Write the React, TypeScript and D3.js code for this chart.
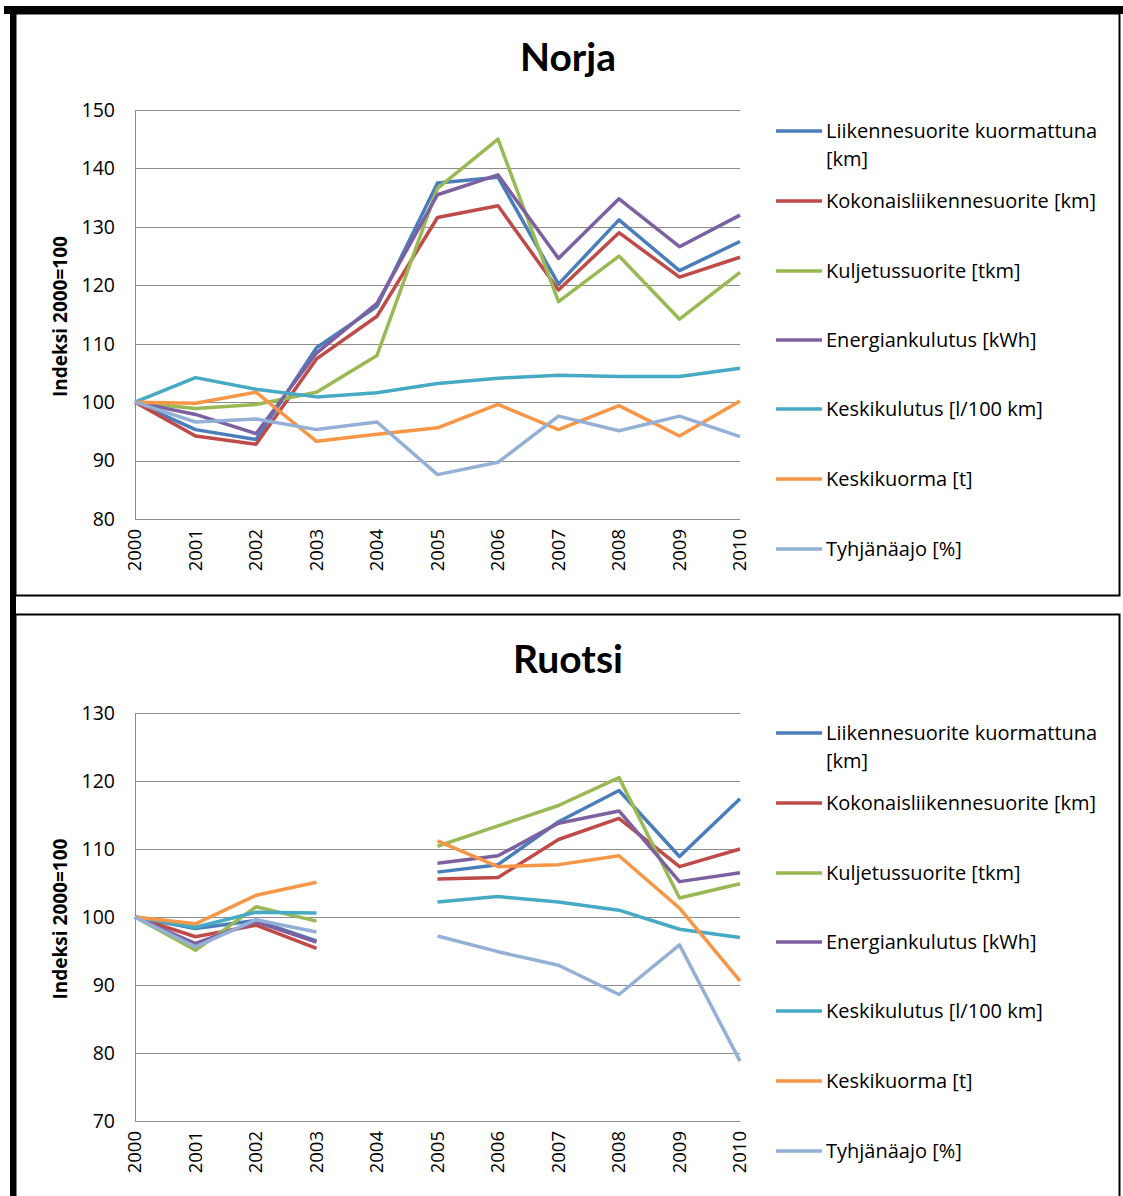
import React, { useRef, useEffect } from 'react';
import * as d3 from 'd3';

// vuodet
const years = [2000, 2001, 2002, 2003, 2004, 2005, 2006, 2007, 2008, 2009, 2010];

const seriesNames = [
  'Liikennesuorite kuormattuna [km]',
  'Kokonaisliikennesuorite [km]',
  'Kuljetussuorite [tkm]',
  'Energiankulutus [kWh]',
  'Keskikulutus [l/100 km]',
  'Keskikuorma [t]',
  'Tyhjänäajo [%]',
];

const colors = ['#4A7EBB', '#BE4B48', '#98B954', '#7D60A0', '#46AAC5', '#F79646', '#94B0D6'];

// Norja
const norjaKuormattuna = [100, 95.3, 93.6, 109.3, 116.4, 137.5, 138.5, 120.2, 131.2, 122.5, 127.5];
const norjaKokonais = [100, 94.2, 92.8, 107.4, 114.7, 131.6, 133.6, 119.2, 129.0, 121.4, 124.8];
const norjaKuljetus = [100, 98.9, 99.6, 101.7, 108.0, 136.6, 145.0, 117.2, 125.0, 114.2, 122.2];
const norjaEnergia = [100, 97.9, 94.6, 108.4, 116.9, 135.5, 138.9, 124.6, 134.8, 126.6, 132.0];
const norjaKeskikulutus = [100, 104.2, 102.2, 100.9, 101.6, 103.2, 104.1, 104.6, 104.4, 104.4, 105.8];
const norjaKeskikuorma = [100, 99.8, 101.7, 93.3, 94.5, 95.6, 99.6, 95.3, 99.4, 94.2, 100.2];
const norjaTyhja = [100, 96.6, 97.1, 95.3, 96.6, 87.6, 89.7, 97.6, 95.1, 97.6, 94.1];

// Ruotsi (2004 puuttuu)
const ruotsiKuormattuna = [100, 98.3, 99.5, 96.5, null, 106.6, 107.7, 114.0, 118.6, 108.9, 117.4];
const ruotsiKokonais = [100, 97.1, 98.8, 95.4, null, 105.6, 105.8, 111.4, 114.5, 107.4, 110.0];
const ruotsiKuljetus = [100, 95.1, 101.5, 99.4, null, 110.4, 113.4, 116.4, 120.5, 102.8, 104.9];
const ruotsiEnergia = [100, 96.1, 99.3, 96.3, null, 107.9, 109.0, 113.8, 115.6, 105.2, 106.5];
const ruotsiKeskikulutus = [100, 98.5, 100.7, 100.6, null, 102.2, 103.0, 102.2, 101.0, 98.2, 97.0];
const ruotsiKeskikuorma = [100, 99.0, 103.2, 105.1, null, 111.2, 107.4, 107.7, 109.0, 101.3, 90.6];
const ruotsiTyhja = [100, 95.6, 99.6, 97.8, null, 97.2, 94.9, 92.9, 88.6, 95.9, 78.8];

const norjaTicks = [80, 90, 100, 110, 120, 130, 140, 150];
const ruotsiTicks = [70, 80, 90, 100, 110, 120, 130];

const font = '"Open Sans", Lato, sans-serif';
const titleFont = 'Lato, "Open Sans", sans-serif';

function drawChart(svg, opts) {
  const { top, title, series, ticks, plotTop, plotBottom, legendY } = opts;
  const g = svg.append('g');
  const x0 = 135;
  const x1 = 740;

  const x = d3.scaleLinear().domain([2000, 2010]).range([x0, x1]);
  const y = d3.scaleLinear().domain([ticks[0], ticks[ticks.length - 1]]).range([plotBottom, plotTop]);

  // otsikko
  g.append('text')
    .attr('x', 568)
    .attr('y', top + 71)
    .attr('text-anchor', 'middle')
    .attr('font-family', titleFont)
    .attr('font-weight', 'bold')
    .attr('font-size', 39)
    .text(title);

  // y-akselin otsikko
  g.append('text')
    .attr('transform', `translate(67,${(plotTop + plotBottom) / 2 + 2}) rotate(-90)`)
    .attr('text-anchor', 'middle')
    .attr('font-family', font)
    .attr('font-weight', 'bold')
    .attr('font-size', 19)
    .text('Indeksi 2000=100');

  // ruudukko
  g.selectAll('.grid')
    .data(ticks)
    .enter()
    .append('line')
    .attr('x1', x0)
    .attr('x2', x1)
    .attr('y1', d => Math.round(y(d)) + 0.5)
    .attr('y2', d => Math.round(y(d)) + 0.5)
    .attr('stroke', '#8c8c8c')
    .attr('stroke-width', 1);

  g.append('line')
    .attr('x1', x0 + 0.5)
    .attr('x2', x0 + 0.5)
    .attr('y1', plotTop)
    .attr('y2', plotBottom)
    .attr('stroke', '#8c8c8c');

  g.selectAll('.ytick')
    .data(ticks)
    .enter()
    .append('text')
    .attr('x', 115)
    .attr('y', d => y(d))
    .attr('dy', '0.35em')
    .attr('text-anchor', 'end')
    .attr('font-family', font)
    .attr('font-size', 19.5)
    .text(d => d);

  g.selectAll('.xtick')
    .data(years)
    .enter()
    .append('text')
    .attr('transform', d => `translate(${x(d)},${plotBottom + 10}) rotate(-90)`)
    .attr('dy', '0.35em')
    .attr('text-anchor', 'end')
    .attr('font-family', font)
    .attr('font-size', 18.5)
    .text(d => d);

  const line = d3
    .line()
    .defined(d => d[1] != null)
    .x(d => x(d[0]))
    .y(d => y(d[1]));

  series.forEach((vals, i) => {
    g.append('path')
      .datum(years.map((yr, j) => [yr, vals[j]]))
      .attr('d', line)
      .attr('fill', 'none')
      .attr('stroke', colors[i])
      .attr('stroke-width', 3.5)
      .attr('stroke-linejoin', 'round');
  });

  // selite
  const legendYs = [0, 70, 140, 209, 278, 348, 418].map(d => legendY + d);
  seriesNames.forEach((name, i) => {
    const ly = legendYs[i];
    g.append('line')
      .attr('x1', 776)
      .attr('x2', 822)
      .attr('y1', ly)
      .attr('y2', ly)
      .attr('stroke', colors[i])
      .attr('stroke-width', 3.5);
    const t = g
      .append('text')
      .attr('x', 826)
      .attr('y', ly)
      .attr('dy', '0.35em')
      .attr('font-family', font)
      .attr('font-size', 20);
    if (i === 0) {
      t.append('tspan').attr('x', 826).text('Liikennesuorite kuormattuna');
      t.append('tspan').attr('x', 826).attr('dy', 28).text('[km]');
    } else {
      t.text(name);
    }
  });
}

const App = () => {
  const ref = useRef();

  useEffect(() => {
    const svg = d3.select(ref.current);
    svg.selectAll('*').remove();

    svg.append('rect').attr('width', 1123).attr('height', 1196).attr('fill', '#fff');

    // kehykset
    svg.append('rect').attr('x', 4).attr('y', 6).attr('width', 1119).attr('height', 8).attr('fill', '#000');
    svg.append('rect').attr('x', 10).attr('y', 6).attr('width', 6).attr('height', 1190).attr('fill', '#000');
    svg.append('rect')
      .attr('x', 15.5).attr('y', 13.5).attr('width', 1104).attr('height', 582)
      .attr('fill', 'none').attr('stroke', '#000').attr('stroke-width', 2);
    svg.append('rect')
      .attr('x', 15.5).attr('y', 614.5).attr('width', 1104).attr('height', 600)
      .attr('fill', 'none').attr('stroke', '#000').attr('stroke-width', 2);

    drawChart(svg, {
      top: 0,
      title: 'Norja',
      series: [norjaKuormattuna, norjaKokonais, norjaKuljetus, norjaEnergia, norjaKeskikulutus, norjaKeskikuorma, norjaTyhja],
      ticks: norjaTicks,
      plotTop: 110,
      plotBottom: 519,
      legendY: 131,
    });

    drawChart(svg, {
      top: 602,
      title: 'Ruotsi',
      series: [ruotsiKuormattuna, ruotsiKokonais, ruotsiKuljetus, ruotsiEnergia, ruotsiKeskikulutus, ruotsiKeskikuorma, ruotsiTyhja],
      ticks: ruotsiTicks,
      plotTop: 713,
      plotBottom: 1121,
      legendY: 733,
    });
  }, []);

  return (
    <svg
      ref={ref}
      width={1123}
      height={1196}
      style={{ position: 'absolute', left: 0, top: 0 }}
    />
  );
};

export default App;
